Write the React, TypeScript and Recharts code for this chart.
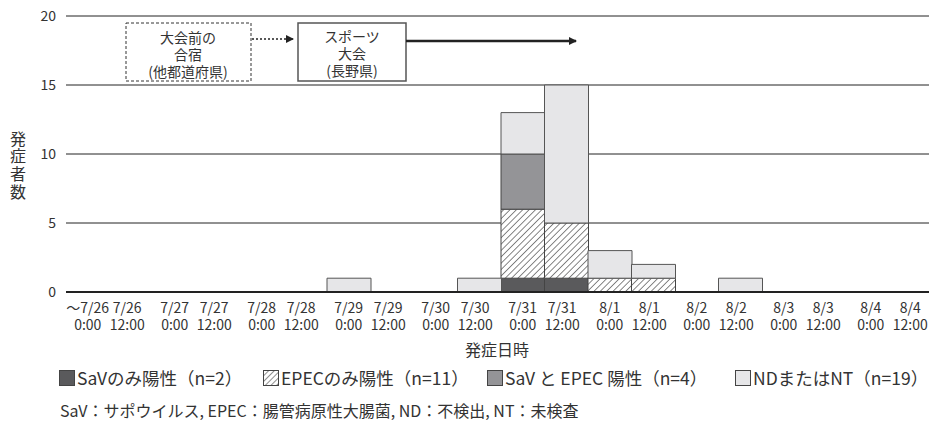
import { Bar, BarChart, CartesianGrid, XAxis, YAxis } from 'recharts';

const tickDates = [
  '～7/26', '7/26', '7/27', '7/27', '7/28', '7/28', '7/29', '7/29', '7/30', '7/30',
  '7/31', '7/31', '8/1', '8/1', '8/2', '8/2', '8/3', '8/3', '8/4', '8/4'
];
const tickTimes = [
  '0:00', '12:00', '0:00', '12:00', '0:00', '12:00', '0:00', '12:00', '0:00', '12:00',
  '0:00', '12:00', '0:00', '12:00', '0:00', '12:00', '0:00', '12:00', '0:00', '12:00'
];

// stacked bottom -> top
const savOnly = [0, 0, 0, 0, 0, 0, 0, 0, 0, 0, 1, 1, 0, 0, 0, 0, 0, 0, 0, 0];
const epecOnly = [0, 0, 0, 0, 0, 0, 0, 0, 0, 0, 5, 4, 1, 1, 0, 0, 0, 0, 0, 0];
const savAndEpec = [0, 0, 0, 0, 0, 0, 0, 0, 0, 0, 4, 0, 0, 0, 0, 0, 0, 0, 0, 0];
const ndOrNt = [0, 0, 0, 0, 0, 0, 1, 0, 0, 1, 3, 10, 2, 1, 0, 1, 0, 0, 0, 0];

const yTicks = [0, 5, 10, 15, 20];

const legendItems = [
  { label: 'SaVのみ陽性（n=2）', fill: '#5a5a5c', left: 59 },
  { label: 'EPECのみ陽性（n=11）', fill: 'url(#hatchIcon)', left: 263 },
  { label: 'SaV と EPEC 陽性（n=4）', fill: '#949497', left: 487 },
  { label: 'NDまたはNT（n=19）', fill: '#e6e6e8', left: 735 }
];

const FONT = '"Noto Sans CJK JP", "Noto Sans", sans-serif';
const TEXT = '#333';

const data = tickDates.map((d, i) => ({
  key: `${d} ${tickTimes[i]}`,
  sav: savOnly[i],
  epec: epecOnly[i],
  both: savAndEpec[i],
  nd: ndOrNt[i]
}));

function DateTick(props: any) {
  const { x, y, payload } = props;
  const i = payload.index;
  // the 12:00 labels sit a little left of the slot centre in the source
  const cx = i % 2 === 1 ? x - 4 : x;
  return (
    <text x={cx} y={y} textAnchor="middle" fill={TEXT} fontSize={14} fontFamily={FONT}>
      <tspan x={cx} dy={13}>{tickDates[i]}</tspan>
      <tspan x={cx} dy={17}>{tickTimes[i]}</tspan>
    </text>
  );
}

function Annotations() {
  return (
    <svg
      width={929}
      height={421}
      style={{ position: 'absolute', left: 0, top: 0, pointerEvents: 'none' }}
      fontFamily={FONT}
    >
      <defs>
        <marker id="arrowHead" markerWidth="8" markerHeight="8" refX="7" refY="4" orient="auto" markerUnits="userSpaceOnUse">
          <path d="M0,0 L8,4 L0,8 Z" fill="#222" />
        </marker>
      </defs>
      <rect x={126} y={23} width={125} height={58} fill="#fff" stroke="#333" strokeWidth={1} strokeDasharray="3 2" />
      <text x={188} textAnchor="middle" fontSize={14} fill={TEXT}>
        <tspan x={188} y={43}>大会前の</tspan>
        <tspan x={188} y={60}>合宿</tspan>
        <tspan x={188} y={77}>(他都道府県)</tspan>
      </text>
      <line x1={252} y1={39} x2={293} y2={39} stroke="#222" strokeWidth={1.5} strokeDasharray="2 2" markerEnd="url(#arrowHead)" />
      <rect x={298} y={23} width={108} height={58} fill="#fff" stroke="#555" strokeWidth={1.5} />
      <text x={352} textAnchor="middle" fontSize={14} fill={TEXT}>
        <tspan x={352} y={42}>スポーツ</tspan>
        <tspan x={352} y={59}>大会</tspan>
        <tspan x={352} y={76}>(長野県)</tspan>
      </text>
      <line x1={406} y1={41} x2={576} y2={41} stroke="#222" strokeWidth={2.5} markerEnd="url(#arrowHead)" />

      <text
        x={18}
        y={166}
        textAnchor="middle"
        fontSize={16}
        fill={TEXT}
        style={{ writingMode: 'vertical-rl' as any }}
        letterSpacing={1.7}
      >
        発症者数
      </text>
      <text x={497} y={356} textAnchor="middle" fontSize={16} fill={TEXT}>発症日時</text>
    </svg>
  );
}

function LegendBlock() {
  return (
    <div style={{ position: 'absolute', left: 0, top: 367, width: 929, height: 24 }}>
      {legendItems.map((item) => (
        <div
          key={item.label}
          style={{
            position: 'absolute',
            left: item.left,
            top: 0,
            display: 'flex',
            alignItems: 'center',
            fontSize: 17.5,
            color: TEXT,
            fontFamily: FONT,
            whiteSpace: 'nowrap',
            lineHeight: '22px'
          }}
        >
          <svg width={16} height={16} style={{ marginRight: 2 }}>
            <defs>
              <pattern id="hatchIcon" width="4" height="4" patternUnits="userSpaceOnUse" patternTransform="rotate(45)">
                <rect width="4" height="4" fill="#fff" />
                <line x1="0" y1="0" x2="0" y2="4" stroke="#222" strokeWidth="1" />
              </pattern>
            </defs>
            <rect x={0.5} y={0.5} width={15} height={15} fill={item.fill} stroke="#444" strokeWidth={1} />
          </svg>
          <span>{item.label}</span>
        </div>
      ))}
    </div>
  );
}

export default function App() {
  return (
    <div
      style={{
        position: 'absolute',
        left: 0,
        top: 0,
        width: 929,
        height: 421,
        overflow: 'hidden',
        background: '#fff',
        fontFamily: FONT
      }}
    >
      <style>{'html,body{margin:0;overflow:hidden;}'}</style>
      <BarChart
        width={940}
        height={421}
        data={data}
        margin={{ top: 16, right: 4, left: 0, bottom: 0 }}
        barCategoryGap={0}
        barGap={0}
      >
        <defs>
          <pattern id="hatch" width="4.5" height="4.5" patternUnits="userSpaceOnUse" patternTransform="rotate(45)">
            <rect width="4.5" height="4.5" fill="#fff" />
            <line x1="0" y1="0" x2="0" y2="4.5" stroke="#222" strokeWidth="1.1" />
          </pattern>
        </defs>
        <CartesianGrid vertical={false} stroke="#222" strokeWidth={1} />
        <XAxis
          dataKey="key"
          interval={0}
          height={129}
          tickLine={false}
          axisLine={{ stroke: '#222', strokeWidth: 2 }}
          tick={<DateTick />}
        />
        <YAxis
          width={66}
          domain={[0, 20]}
          ticks={yTicks}
          axisLine={false}
          tickLine={false}
          tickMargin={4}
          tick={{ fill: TEXT, fontSize: 14, fontFamily: FONT }}
        />
        <Bar dataKey="sav" stackId="a" fill="#5a5a5c" stroke="#444" strokeWidth={1} isAnimationActive={false} />
        <Bar dataKey="epec" stackId="a" fill="url(#hatch)" stroke="#444" strokeWidth={1} isAnimationActive={false} />
        <Bar dataKey="both" stackId="a" fill="#949497" stroke="#444" strokeWidth={1} isAnimationActive={false} />
        <Bar dataKey="nd" stackId="a" fill="#e6e6e8" stroke="#555" strokeWidth={1} isAnimationActive={false} />
      </BarChart>
      <Annotations />
      <LegendBlock />
      <div
        style={{
          position: 'absolute',
          left: 60,
          top: 400,
          fontSize: 16,
          color: TEXT,
          fontFamily: FONT,
          whiteSpace: 'nowrap',
          lineHeight: '20px'
        }}
      >
        SaV：サポウイルス, EPEC：腸管病原性大腸菌, ND：不検出, NT：未検査
      </div>
    </div>
  );
}
